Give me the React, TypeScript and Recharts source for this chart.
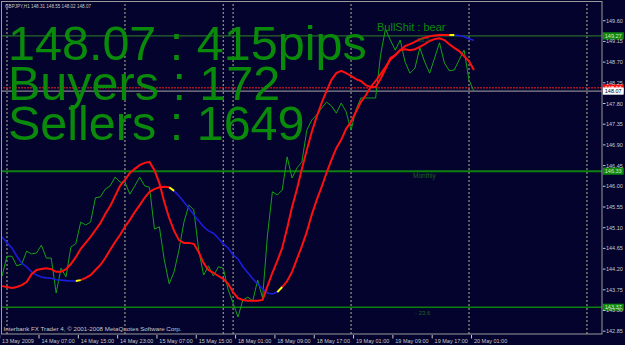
import React from "react";
import { LineChart, Line, XAxis, YAxis, ReferenceLine } from "recharts";

// GBPJPY H1 closes, bar 0 = 13 May 2009 23:00 ... bar 96 = 20 May 01:00
const closes = [
  144.05, 144.48, 144.48, 144.27, 144.31, 144.59, 144.53, 144.55, 144.72, 144.44,
  144.44, 143.68, 144.22, 144.03, 144.68, 144.75, 145.22, 145.16, 145.22, 145.75,
  145.77, 145.94, 146.01, 146.2, 146.09, 146.09, 145.83, 146.01, 146.2, 146.01,
  145.98, 145.07, 145.12, 144.4, 143.88, 144.14, 144.62, 145.22, 145.59, 145.49,
  144.62, 144.07, 144.27, 144.05, 144.25, 144.22, 143.75, 143.46, 143.16, 143.53,
  143.59, 143.51, 143.96, 143.57, 144.94, 145.88, 145.81, 145.92, 146.64, 146.18,
  146.4, 146.53, 147.22, 147.44, 147.55, 147.7, 147.83, 147.75, 147.59, 147.81,
  147.62, 147.22, 147.66, 147.92, 147.92, 147.92, 147.92, 148.85, 149.42, 149.18,
  148.96, 149.18, 148.7, 148.46, 148.57, 149.01, 148.7, 148.46, 148.79, 149.12,
  148.68, 148.51, 148.53, 148.75, 148.96, 148.31, 148.07,
];

const fastMA = [
  143.83, 143.81, 143.79, 143.81, 143.85, 143.92, 144.09, 144.18, 144.2, 144.22,
  144.2, 144.14, 144.14, 144.2, 144.31, 144.46, 144.64, 144.77, 144.9, 145.05,
  145.2, 145.4, 145.57, 145.79, 146.01, 146.14, 146.29, 146.38, 146.46, 146.51,
  146.53, 146.35, 146.07, 145.66, 145.31, 145.03, 144.83, 144.77, 144.77, 144.75,
  144.57, 144.33, 144.18, 144.12, 144.05, 143.99, 143.88, 143.7, 143.57, 143.53,
  143.51, 143.51, 143.51, 143.53, 143.83, 144.12, 144.38, 144.66, 145.09, 145.55,
  145.94, 146.38, 146.79, 147.18, 147.51, 147.81, 148.07, 148.31, 148.46, 148.51,
  148.46, 148.4, 148.33, 148.29, 148.2, 148.16, 148.16, 148.33, 148.55, 148.79,
  148.85, 148.96, 148.98, 148.96, 148.98, 149.03, 149.09, 149.16, 149.2, 149.22,
  149.18, 149.09, 149.01, 148.94, 148.83, 148.72, 148.53,
];

const slowMA = [
  144.9, 144.77, 144.66, 144.48, 144.33, 144.25, 144.14, 144.07, 144.03, 144.01,
  144.0, 143.97, 143.96, 143.95, 143.94, 143.94, 143.96, 144.01, 144.07, 144.18,
  144.29, 144.44, 144.62, 144.79, 144.94, 145.12, 145.27, 145.44, 145.59, 145.75,
  145.88, 145.94, 145.98, 145.99, 145.98, 145.9, 145.79, 145.66, 145.53, 145.38,
  145.25, 145.12, 145.03, 144.98, 144.87, 144.75, 144.66, 144.51, 144.42, 144.25,
  144.12, 143.99, 143.88, 143.77, 143.68, 143.66, 143.7, 143.81, 143.94, 144.14,
  144.42, 144.7, 145.01, 145.38, 145.7, 145.98, 146.29, 146.57, 146.83, 147.01,
  147.25, 147.4, 147.62, 147.83, 147.98, 148.16, 148.29, 148.44, 148.59, 148.75,
  148.85, 148.96, 149.05, 149.09, 149.14, 149.2, 149.23, 149.26, 149.28, 149.29,
  149.29, 149.29, 149.29, 149.28, 149.25, 149.21, 149.17,
];

// slow MA colour state: D = falling (blue), Y = turn (yellow), U = rising (red)
const slowTrendRuns: [string, number][] = [
  ["D", 15], ["Y", 1], ["U", 18], ["Y", 1], ["D", 21], ["Y", 1], ["U", 34], ["Y", 1], ["D", 5],
];

const timeTickIndex = [0, 8, 16, 24, 32, 40, 48, 56, 64, 72, 80, 88, 96];
const timeTickLabels = [
  "13 May 2009", "14 May 07:00", "14 May 15:00", "14 May 23:00", "15 May 07:00",
  "15 May 15:00", "18 May 01:00", "18 May 09:00", "18 May 17:00", "19 May 01:00",
  "19 May 09:00", "19 May 17:00", "20 May 01:00",
];
const daySeparators = [1, 25, 45, 47, 71, 95, 119];
const priceTicks = [
  149.6, 149.15, 148.7, 148.25, 147.8, 147.35, 146.9, 146.45, 146.0, 145.55,
  145.1, 144.65, 144.2, 143.75, 143.3, 142.85,
];

const fibHigh = 149.27;
const monthly = 146.33;
const fibLow = 143.37;
const askLevel = 148.14;
const bidLevel = 148.07;

const trend: string[] = slowTrendRuns.flatMap(([s, n]) => Array(n).fill(s));
const pick = (s: string, i: number) =>
  trend[i] === s || (i > 0 && trend[i - 1] === s) ? slowMA[i] : null;

const data = closes.map((c, i) => ({
  i,
  close: c,
  fast: fastMA[i],
  slowUp: pick("U", i),
  slowDown: pick("D", i),
  slowTurn: pick("Y", i),
}));

const FONT = "'Liberation Sans', Arial, sans-serif";
const AXIS_TXT = "#c8c8c8";
const BG = "#03032e";

const TimeTick = (props: any) => {
  const { x, y, payload } = props;
  const k = timeTickIndex.indexOf(payload.value);
  return (
    <g>
      <line x1={x - 2.4} x2={x - 2.4} y1={y + 1} y2={y + 4.5} stroke={AXIS_TXT} strokeWidth={1} />
      <text x={x} y={y + 8.6} fontSize={5.5} fill={AXIS_TXT} fontFamily={FONT}>
        {timeTickLabels[k]}
      </text>
    </g>
  );
};

const PriceTick = (props: any) => {
  const { x, y, payload } = props;
  return (
    <g>
      <line x1={x + 1} x2={x + 3.5} y1={y} y2={y} stroke={AXIS_TXT} strokeWidth={1} />
      <text x={x + 4} y={y + 2} fontSize={5.5} fill={AXIS_TXT} fontFamily={FONT}>
        {Number(payload.value).toFixed(2)}
      </text>
    </g>
  );
};

const priceTag = (value: number, fill: string, color: string) => (p: any) => {
  const vb = p.viewBox || {};
  const x = (vb.x || 0) + (vb.width || 0) + 1;
  const y = vb.y || 0;
  return (
    <g>
      <rect x={x} y={y - 3.3} width={20.5} height={6.6} fill={fill} stroke={fill} strokeWidth={0.5} />
      <text x={x + 1.8} y={y + 2} fontSize={5.5} fill={color} fontFamily={FONT}>
        {value.toFixed(2)}
      </text>
    </g>
  );
};

export default function App() {
  return (
    <div style={{ position: "relative", width: 625, height: 345, background: BG, overflow: "hidden" }}>
      <style>{`html,body{margin:0;padding:0;background:${BG};}`}</style>
      <LineChart
        width={625}
        height={345}
        data={data}
        margin={{ top: 2, right: 0, bottom: 0, left: 2 }}
      >
        <XAxis
          dataKey="i"
          type="number"
          domain={[-0.017, 122.06]}
          allowDataOverflow
          ticks={timeTickIndex}
          interval={0}
          tick={<TimeTick />}
          tickSize={0}
          tickMargin={0}
          axisLine={false}
          tickLine={false}
          height={11}
        />
        <YAxis
          orientation="right"
          type="number"
          domain={[142.789, 150.007]}
          allowDataOverflow
          ticks={priceTicks}
          interval={0}
          tick={<PriceTick />}
          tickSize={0}
          tickMargin={0}
          axisLine={false}
          tickLine={false}
          width={23}
        />
        {daySeparators.map((d) => (
          <ReferenceLine key={"d" + d} x={d} stroke="#b4b496" strokeDasharray="2 2" strokeWidth={1} />
        ))}
        <ReferenceLine y={fibHigh} stroke="#2a6a2a" strokeWidth={1.2} label={priceTag(fibHigh, "#108a10", "#cfe8cf")} />
        <ReferenceLine y={monthly} stroke="#0f7f0f" strokeWidth={2} label={priceTag(monthly, "#108a10", "#cfe8cf")} />
        <ReferenceLine y={fibLow} stroke="#0f7f0f" strokeWidth={1.5} label={priceTag(fibLow, "#108a10", "#cfe8cf")} />
        <ReferenceLine y={askLevel} stroke="#ff2020" strokeDasharray="2 1" strokeWidth={1} label={priceTag(askLevel, "#ff1010", "#ffffff")} />
        <ReferenceLine y={bidLevel} stroke="#a8a8a8" strokeWidth={1} label={priceTag(bidLevel, "#ffffff", "#000000")} />
        <Line type="linear" dataKey="close" stroke="#14a014" strokeWidth={1} dot={false} isAnimationActive={false} />
        <Line type="linear" dataKey="slowDown" stroke="#1c1cdc" strokeWidth={1.6} dot={false} isAnimationActive={false} />
        <Line type="linear" dataKey="slowUp" stroke="#ff1010" strokeWidth={2} dot={false} isAnimationActive={false} />
        <Line type="linear" dataKey="slowTurn" stroke="#ffff00" strokeWidth={2} dot={false} isAnimationActive={false} />
        <Line type="linear" dataKey="fast" stroke="#ff1010" strokeWidth={2} dot={false} isAnimationActive={false} />
      </LineChart>
      <svg
        width={625}
        height={345}
        style={{ position: "absolute", left: 0, top: 0, pointerEvents: "none" }}
      >
        <rect x={1.5} y={1.5} width={600.5} height={332.5} fill="none" stroke="#9a9a9a" strokeWidth={1} />
        <text x={5} y={7.6} fontSize={5.5} fill={AXIS_TXT} fontFamily={FONT} textLength={86} lengthAdjust="spacingAndGlyphs">
          GBPJPY,H1  148.31 148.55 148.02 148.07
        </text>
        <g fontFamily={FONT} fill="#0a8a0a">
          <text x={8} y={59.5} fontSize={48.5}>148.07 : 415pips</text>
          <text x={8} y={100} fontSize={48.5}>Buyers : 172</text>
          <text x={8} y={140} fontSize={48.5}>Sellers : 1649</text>
          <text x={377} y={30.5} fontSize={11}>BullShit : bear</text>
        </g>
        <g fontFamily={FONT} fill="#1c641c">
          <text x={414} y={42} fontSize={6}>- 38.2</text>
          <text x={413} y={178} fontSize={6.5}>Monthly</text>
          <text x={415} y={315} fontSize={6}>- 23.6</text>
        </g>
        <text x={3.5} y={331.3} fontSize={5.5} fill={AXIS_TXT} fontFamily={FONT} textLength={178} lengthAdjust="spacingAndGlyphs">
          Interbank FX Trader 4, © 2001-2008 MetaQuotes Software Corp.
        </text>
      </svg>
    </div>
  );
}
